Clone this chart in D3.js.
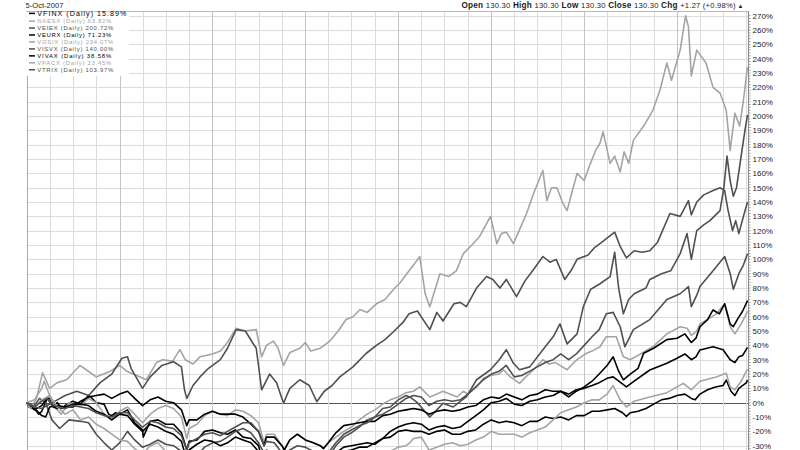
<!DOCTYPE html>
<html><head><meta charset="utf-8">
<script src="https://cdn.jsdelivr.net/npm/d3@7"></script>
<style>
body{margin:0;background:#fff}
svg{display:block}
text{font-family:Arial,"Liberation Sans",sans-serif}
</style>
</head><body>
<svg id="chart" width="800" height="450"></svg>
<script>
// ---------- data ----------
const startDate = "2000-01-01";
const endDate = "2007-10-05";
const headerDate = "5-Oct-2007";
const quote = [["Open","130.30"],["High","130.30"],["Low","130.30"],["Close","130.30"],["Chg","+1.27 (+0.98%)"]];
const tickValues = d3.range(-30, 271, 10);
const seriesNames = ["VFINX","NAESX","VEIEX","VEURX","VGSIX","VISVX","VIVAX","VPACX","VTRIX"];
const seriesFinal = ["15.89%","63.82%","200.72%","71.23%","234.07%","140.00%","38.58%","23.45%","103.97%"];

// [months since start, % change]
const VFINX = [[0,0],[0.3,-3],[1,-4],[1.6,-8],[2,-6],[2.7,3],[3,3],[3.5,-2],[4,0],[4.6,-4],[5,-2],[6,1],[7,-1],[8,5],[8.3,4],[9,0],[10,-1],[10.6,-8],[11,-9],[11.5,-7],[12,-8],[13,-5],[14,-14],[15,-19],[15.1,-24],[16,-13],[17,-12],[18,-15],[19,-15],[20,-21],[20.7,-33],[21,-27],[22,-26],[23,-20],[24,-19],[25,-21],[26,-22],[27,-19],[28,-24],[29,-25],[30,-30],[30.7,-44],[31,-36],[32,-35],[33,-42],[33.3,-46],[34,-37],[35,-34],[36,-38],[37,-39],[38,-40],[38.4,-43],[39,-40],[40,-35],[41,-31],[42,-30],[43,-29],[44,-28],[45,-29],[46,-25],[47,-24],[48,-20],[49,-19],[50,-20],[51,-20],[52,-22],[53,-20],[54,-19],[55,-22],[56,-22],[57,-20],[58,-19],[59,-15],[60,-12],[61,-14],[62,-13],[63,-14],[64,-16],[65,-13],[66,-13],[67,-10],[68,-11],[69,-10],[70,-12],[71,-9],[72,-9],[73,-6],[74,-6],[75,-5],[76,-4],[77,-7],[77.5,-9.5],[78,-7],[79,-6],[80,-4],[81,-1],[82,2],[83,3],[84,5],[85,6],[85.9,3],[86.4,2],[87,6],[88,9],[89,11],[90,12],[90.4,15.8],[91,8],[91.5,5],[92,10],[93,14],[93.15,15.89]];
const NAESX = [[0,0],[1,2],[2,10],[2.3,15],[3,5],[3.6,-3],[4.5,-8],[5.5,0],[7,-2],[8,3],[9,0],[10,-8],[11,-12],[12,-6],[13,-3],[14,-8],[15,-14],[16,-8],[17,-4],[18,-2],[19,-4],[20,-10],[20.7,-25],[21,-18],[22,-15],[23,-9],[24,-6],[25,-8],[26,-9],[27,-5],[28,-6],[29,-9],[30,-14],[30.7,-28],[31,-22],[32,-22],[33,-30],[33.3,-33],[34,-26],[35,-22],[36,-26],[37,-28],[38,-30],[38.4,-32],[39,-28],[40,-24],[41,-20],[42,-17],[43,-12],[44,-8],[45,-5],[46,-1],[47,2],[48,4],[49,7],[50,8],[50.8,11],[52.1,4],[53,6],[53.8,8],[55.6,4],[56.4,8],[57,6],[58.1,11],[59,17],[59.9,19],[61,20],[61.6,23],[62.5,18],[63.7,13.5],[64.5,18],[65.5,23],[66.7,30],[67.5,27],[68.3,28],[69.2,25],[69.8,23],[70.5,27],[71.1,30],[72.3,34.5],[73,36],[74.1,39],[74.9,46],[76.2,46],[77.1,32],[78,30],[79.3,34],[80.9,39],[82.7,48],[84.4,53],[85.3,52],[85.9,47],[86.6,50],[87,55],[88,58],[89.1,62],[90.2,69],[90.9,53],[91.5,48],[92.3,55],[92.8,60],[93.15,63.82]];
const VEIEX = [[0,0],[1,-2],[1.7,3],[2.5,0],[3.3,-12],[4.3,-18],[5.5,-12],[7,-13],[8,-14],[9,-22],[10,-28],[11,-33],[12,-28],[13,-20],[14,-26],[15,-31],[16,-29],[17,-26],[18,-29],[19,-30],[20,-34],[20.7,-47],[21,-42],[22,-37],[23,-31],[24,-28],[25,-27],[26,-24],[27,-20],[28,-18],[29,-21],[30,-28],[30.7,-35],[31,-33],[32,-35],[33,-40],[33.5,-42],[34,-38],[35,-34],[36,-36],[37,-37],[38,-39],[39,-38],[40,-30],[41,-24],[42,-21],[43,-17],[44,-12],[45,-10],[46,-4],[47,-3],[48,2],[49,5],[49.5,4],[50.5,0],[52.1,-10],[53,-5],[53.8,-0.4],[55.1,-3],[56,1],[56.8,4],[58.1,16],[59.9,23],[61,30],[62,37],[62.9,27.5],[63.7,23],[65,25],[66.7,37],[68,46],[68.9,55],[69.8,41],[71.1,48],[71.9,67],[72.8,79],[74.1,83],[75.4,88],[76,105],[76.5,80],[77.1,62],[77.8,72],[78.5,76],[80,80],[80.5,86],[82,90],[83.2,92],[84.4,104],[85.3,118],[85.9,100],[86.6,120],[87.5,124],[88.3,127],[89.6,134],[90.1,150],[90.5,172],[90.9,155],[91.3,144],[91.7,150],[92.3,172],[92.8,190],[93.15,200.72]];
const VEURX = [[0,0],[1,-5],[2,-2],[2.7,3],[3.5,-3],[4,-4],[5,-3],[6,-1],[7,-1],[8,-2],[9,-6],[10,-8],[11,-12],[12,-8],[13,-9],[14,-15],[15,-20],[16,-15],[17,-17],[18,-20],[19,-22],[20,-27],[20.7,-40],[21,-33],[22,-29],[23,-26],[24,-27],[25,-30],[26,-28],[27,-24],[28,-26],[29,-28],[30,-34],[30.7,-45],[31,-40],[32,-41],[33,-50],[33.4,-52],[34,-45],[35,-42],[36,-43],[37,-47],[38,-50],[38.4,-53],[39,-45],[40,-38],[41,-34],[42,-33],[43,-31],[44,-31],[45,-28],[46,-25],[47,-20],[48,-17],[49,-15],[50,-14],[51,-15],[52,-19],[53,-17],[54,-16],[55,-18],[56,-17],[57,-13],[58,-9],[59,-5],[60,0],[61,1],[62,3],[63,-1],[64,-2],[65,1],[66,2],[67,4],[68,5],[69,8],[70,4],[71,8],[72,11],[73,15],[74,20],[75,26],[75.8,32],[76.5,22],[77.1,16],[78,20],[79,24],[79.7,34.5],[81,38],[82.7,44],[84,45],[85,48],[85.9,42],[86.5,45],[87,53],[88,58],[88.7,64.7],[89.5,62],[90.2,69],[90.9,55],[91.3,53],[91.8,58],[92.5,64],[93.15,71.23]];
const VGSIX = [[0,0],[0.5,-4],[1.3,3],[2.1,21],[3,10],[4,14],[5.2,16],[6.9,26],[7.7,23],[9,18],[10.8,22],[12,26],[12.9,22],[14.7,18],[15.5,16],[16.8,28],[17.6,30],[18.9,29],[19.8,37],[20.5,30],[21.5,27],[22.4,32],[24,34],[25,36],[26,42],[27.1,52],[28.3,50],[29.7,51],[30.4,32],[31,40],[31.9,43],[32.5,38],[33.2,26],[34,35],[35.3,38],[36,42],[36.7,36],[38,38],[39.2,43],[40.3,50],[41.3,58],[42.2,60],[43.1,65],[44,63],[45.2,69],[46.3,72],[47.4,79],[48.3,84],[49.1,90],[50,96],[50.8,102],[51.5,76],[52.1,67],[53.4,90],[54.5,88],[55.5,92],[56.4,104],[57.5,110],[58.5,116],[59.4,125],[59.9,130],[60.7,111],[61.3,118],[62,119],[62.9,111],[63.8,122],[64.6,132],[65.5,146],[66.7,162],[67.2,141],[67.8,150],[68.5,150],[69.2,140],[69.8,134],[70.5,148],[71.1,160],[72,155],[72.8,167],[73.5,176],[74.1,181],[74.5,189],[75.4,167],[76,172],[76.7,161],[77.2,175],[77.8,167],[78.4,183],[79.7,193],[80.9,204],[81.8,218],[82.7,237],[83.3,225],[84.4,246],[85.1,270],[85.5,262],[85.9,228],[86.6,246],[87.8,237],[88.7,220],[89.6,216],[90.4,204],[90.9,176],[91.5,202],[92.1,193],[92.6,211],[93.15,234.07]];
const VISVX = [[0,0],[1,-3],[2,-4],[3,-1],[4,2],[5,5],[6.5,8],[8,5],[9.5,14],[11,20],[12.3,31],[13,32],[13.5,24],[15,10],[16,18],[17.5,26],[19,28.6],[20,25],[20.4,9],[20.7,3],[21.5,12],[22.4,18],[23.5,24],[25,30],[26,38],[27.1,51],[28.3,50],[29.2,42],[29.7,38],[30.4,9],[31.4,20],[32.3,14],[33.2,-0.4],[34,10],[35.3,16],[36.5,12],[37.5,0.7],[38.5,8],[39.5,12],[40.5,18],[42.2,25],[43.9,34.5],[45.2,40],[46.3,44],[47.4,49.5],[48.6,56],[49.4,62],[50.5,64],[52.1,51],[53,63],[53.8,57],[55.2,69],[56,70],[56.8,67],[58.1,80],[59.4,88],[60.2,86],[61.1,80],[62,86],[63.3,74],[64.4,85],[65.5,93],[66.7,102],[67.6,98],[68.4,100],[69.5,86],[70.3,92],[71.1,100],[72.5,103],[73.3,108],[74.1,111],[76,119],[76.7,109],[77.5,101],[78.5,106],[79.5,105],[80.5,106],[81.5,112],[83.1,132],[84.4,130],[85.5,141],[85.9,131],[86.6,140],[87.5,145],[88.7,148],[89.6,150],[90.2,148],[90.6,135],[91.2,120],[91.6,127],[92,118],[92.6,130],[93.15,140]];
const VIVAX = [[0,0],[1,-4],[2,-9],[2.5,-10],[3,-3],[4,-2],[5,-3],[6,-3],[7,1],[8,4],[9,5],[10,6],[11,3],[12,6],[13,8],[14,3],[15,-2],[16,2],[17,4],[18,1],[19,0],[20,-5],[20.7,-16],[21,-12],[22,-12],[23,-8],[24,-6],[25,-8],[26,-8],[27,-8],[28,-10],[29,-15],[30,-20],[30.7,-30],[31,-24],[32,-24],[33,-30],[33.3,-33],[34,-26],[35,-22],[36,-26],[37,-28],[38,-30],[38.4,-32],[39,-28],[40,-21],[41,-16],[42,-15],[43,-14],[44,-13],[45,-13],[46,-9],[47,-8],[48,-6],[49,-5],[50,-4],[51,-5],[52,-8],[53,-6],[54,-5],[55,-6],[56,-5],[57,-3],[58,-2],[59,2],[60,4],[61,3],[62,6],[63,4],[64,2],[65,5],[66,6],[67,9],[68,8],[69,8],[70,6],[71,9],[72,10],[73,12],[74,14],[75,17],[75.8,18],[77.5,11],[78.5,15],[80.5,22.8],[82.7,27.5],[84,31],[85,34],[85.9,30],[86.5,32],[87,36.8],[88.7,39],[90,37],[90.9,30],[91.5,28],[92,32],[92.5,33],[93.15,38.58]];
const VPACX = [[0,0],[1,-3],[2,2],[3,5],[4,-3],[5,-8],[6,-5],[7,-12],[8,-10],[9,-15],[10,-18],[11,-22],[12,-26],[13,-27],[14,-32],[15,-36],[16,-30],[17,-28],[18,-34],[19,-38],[20,-42],[20.7,-50],[21,-47],[22,-45],[23,-44],[24,-46],[25,-50],[26,-47],[27,-42],[28,-40],[29,-40],[30,-44],[31,-49],[32,-48],[33,-52],[34,-54],[35,-50],[36,-52],[37,-53],[38,-54],[39,-56],[40,-54],[41,-48],[42,-45],[43,-42],[44,-38],[45,-35],[46,-36],[47,-34],[48,-31],[49,-30],[49.5,-28],[50,-25],[51,-24],[52,-33],[53,-31],[54,-29],[55,-28],[56,-30],[57,-29],[58,-26],[59,-24],[60,-20],[61,-22],[62,-22],[63,-22],[64,-24],[65,-21],[66,-19],[67,-17],[68,-12],[69,-7],[70,-5],[71,-3],[72,0],[73,2],[74,2],[75,6],[75.8,12],[76.7,2],[77.5,-3],[78.5,1],[80.5,4],[82.7,7],[84.8,13.5],[85.9,9],[87,15],[89.1,18],[90.4,20.5],[90.9,11],[91.5,9],[92.3,15],[93.15,23.45]];
const VTRIX = [[0,0],[1,-3],[2,1],[2.7,3],[3.5,-2],[5,-4],[6,-2],[7,-3],[8,-4],[9,-7],[10,-9],[11,-10],[12,-7],[13,-7],[14,-12],[15,-17],[16,-13],[17,-14],[18,-17],[19,-18],[20,-23],[20.7,-33],[21,-28],[22,-25],[23,-22],[24,-21],[25,-23],[26,-20],[27,-17],[28,-14],[29,-14],[30,-20],[30.7,-30],[31,-27],[32,-28],[33,-35],[33.4,-37],[34,-33],[35,-30],[36,-31],[37,-34],[38,-37],[38.4,-40],[39,-35],[40,-28],[41,-22],[42,-19],[43,-16],[44,-14],[45,-10],[46,-8],[47,-5],[48,-1],[49,3],[50,5],[51,4],[52,-2],[53,1],[54,2],[55,1],[56,2],[57,6],[58,11],[59,16],[60,20],[61,22],[62,26],[63,18],[64,19],[65,22],[66,25],[67,28],[68,30],[69,34],[70,30],[71,34],[72,40],[73,46],[74,51],[74.9,62],[75.8,63],[76.7,53],[77.3,39],[78.4,51],[80.5,58],[82.7,72],[84.4,76],[85.5,81],[85.9,67],[86.6,75],[87,81],[88.7,92],[90.2,102],[90.9,90],[91.3,79],[92,90],[92.6,96],[93.15,103.97]];
const seriesData = [VFINX,NAESX,VEIEX,VEURX,VGSIX,VISVX,VIVAX,VPACX,VTRIX];

// ---------- styles ----------
const colors = ["#000000","#a4a4a4","#505050","#000000","#a4a4a4","#505050","#000000","#a4a4a4","#505050"];

const svg = d3.select("#chart");
const W = 800, H = 450;
const plotLeft = 26.5, plotRight = 748, plotTop = 11;
const parse = d3.timeParse("%Y-%m-%d");
const t0 = parse(startDate), t1 = parse(endDate);
const x = d3.scaleTime().domain([t0, t1]).range([plotLeft, plotRight - 0.5]);
const y = d3.scaleLinear().domain([-30, 270]).range([445.7, 15.7]);

function toDate(m){
  const whole = Math.floor(m), frac = m - whole;
  const a = d3.timeMonth.offset(t0, whole), b = d3.timeMonth.offset(t0, whole + 1);
  const d = new Date(a.getTime() + frac * (b - a));
  return d > t1 ? t1 : d;
}

svg.append("rect").attr("width", W).attr("height", H).attr("fill", "#fff");

// grid
const g = svg.append("g");
const hTicks = d3.range(-60, 271, 10);
g.selectAll("line.h").data(hTicks).join("line")
  .attr("x1", plotLeft).attr("x2", plotRight)
  .attr("y1", d => Math.round(y(d)) + 0.5).attr("y2", d => Math.round(y(d)) + 0.5)
  .attr("stroke", d => d === 0 ? "#555" : "#dcdcdc").attr("stroke-width", 1);
const vTicks = d3.timeMonth.every(3).range(t0, t1);
g.selectAll("line.v").data(vTicks).join("line")
  .attr("x1", d => Math.round(x(d)) + 0.5).attr("x2", d => Math.round(x(d)) + 0.5)
  .attr("y1", plotTop).attr("y2", H)
  .attr("stroke", d => d.getMonth() === 0 ? "#c4c4c4" : "#dcdcdc");

// frame
svg.append("line").attr("x1", plotLeft).attr("x2", plotRight).attr("y1", plotTop + 0.5).attr("y2", plotTop + 0.5).attr("stroke", "#bbb");
svg.append("line").attr("x1", Math.round(plotLeft) + 0.5).attr("x2", Math.round(plotLeft) + 0.5).attr("y1", plotTop).attr("y2", H).attr("stroke", "#aaa");

// lines
svg.append("clipPath").attr("id", "plotclip").append("rect")
  .attr("x", plotLeft).attr("y", plotTop).attr("width", plotRight - plotLeft).attr("height", H - plotTop);
const line = d3.line().x(d => x(toDate(d[0]))).y(d => y(d[1]));
svg.append("g").attr("clip-path", "url(#plotclip)")
  .selectAll("path").data(seriesData).join("path")
  .attr("d", line).attr("fill", "none")
  .attr("stroke", (d, i) => colors[i]).attr("stroke-width", 1.6)
  .attr("stroke-linejoin", "round");

// right axis
const axisG = svg.append("g").attr("transform", `translate(${plotRight + 0.5},0)`);
axisG.append("line").attr("y1", plotTop).attr("y2", H).attr("stroke", "#888");
const minor = d3.range(-36, 272, 2);
axisG.selectAll("line.m").data(minor).join("line")
  .attr("x1", 0).attr("x2", 2).attr("y1", d => y(d)).attr("y2", d => y(d)).attr("stroke", "#999");
axisG.selectAll("text").data(tickValues).join("text")
  .attr("x", 4).attr("y", d => y(d)).attr("dy", "0.35em")
  .attr("font-size", 8).attr("fill", "#222")
  .text(d => d + "%");

// header
svg.append("text").attr("x", 25.5).attr("y", 7.6).attr("font-size", 7.6).attr("fill", "#222").text(headerDate);
const hq = svg.append("text").attr("x", 461.5).attr("y", 7.6).attr("font-size", 7.6).attr("fill", "#222")
  .attr("textLength", 282).attr("lengthAdjust", "spacing");
quote.forEach((q, i) => {
  hq.append("tspan").attr("font-weight", "bold").attr("font-size", 8.2).text((i ? " " : "") + q[0] + " ");
  hq.append("tspan").text(q[1]);
});
hq.append("tspan").attr("font-size", 6).text(" \u25B2");

// legend
const lg = svg.append("g");
lg.append("rect").attr("x", plotLeft + 0.5).attr("y", plotTop + 1).attr("width", 102).attr("height", 64).attr("fill", "#fff");
seriesNames.forEach((n, i) => {
  const yy = i === 0 ? 13.4 : 21.1 + (i - 1) * 6.95;
  lg.append("line").attr("x1", 29).attr("x2", 35).attr("y1", yy).attr("y2", yy)
    .attr("stroke", colors[i]).attr("stroke-width", 1.5);
  lg.append("text").attr("x", 37.3).attr("y", yy).attr("dy", "0.35em")
    .attr("font-size", i === 0 ? 7.1 : 5.95).attr("fill", colors[i])
    .attr("textLength", i === 0 ? 89 : (seriesFinal[i].length > 6 ? 76 : 74))
    .attr("lengthAdjust", "spacing")
    .text(`${n} (Daily) ${seriesFinal[i]}`);
});
</script>
</body></html>
